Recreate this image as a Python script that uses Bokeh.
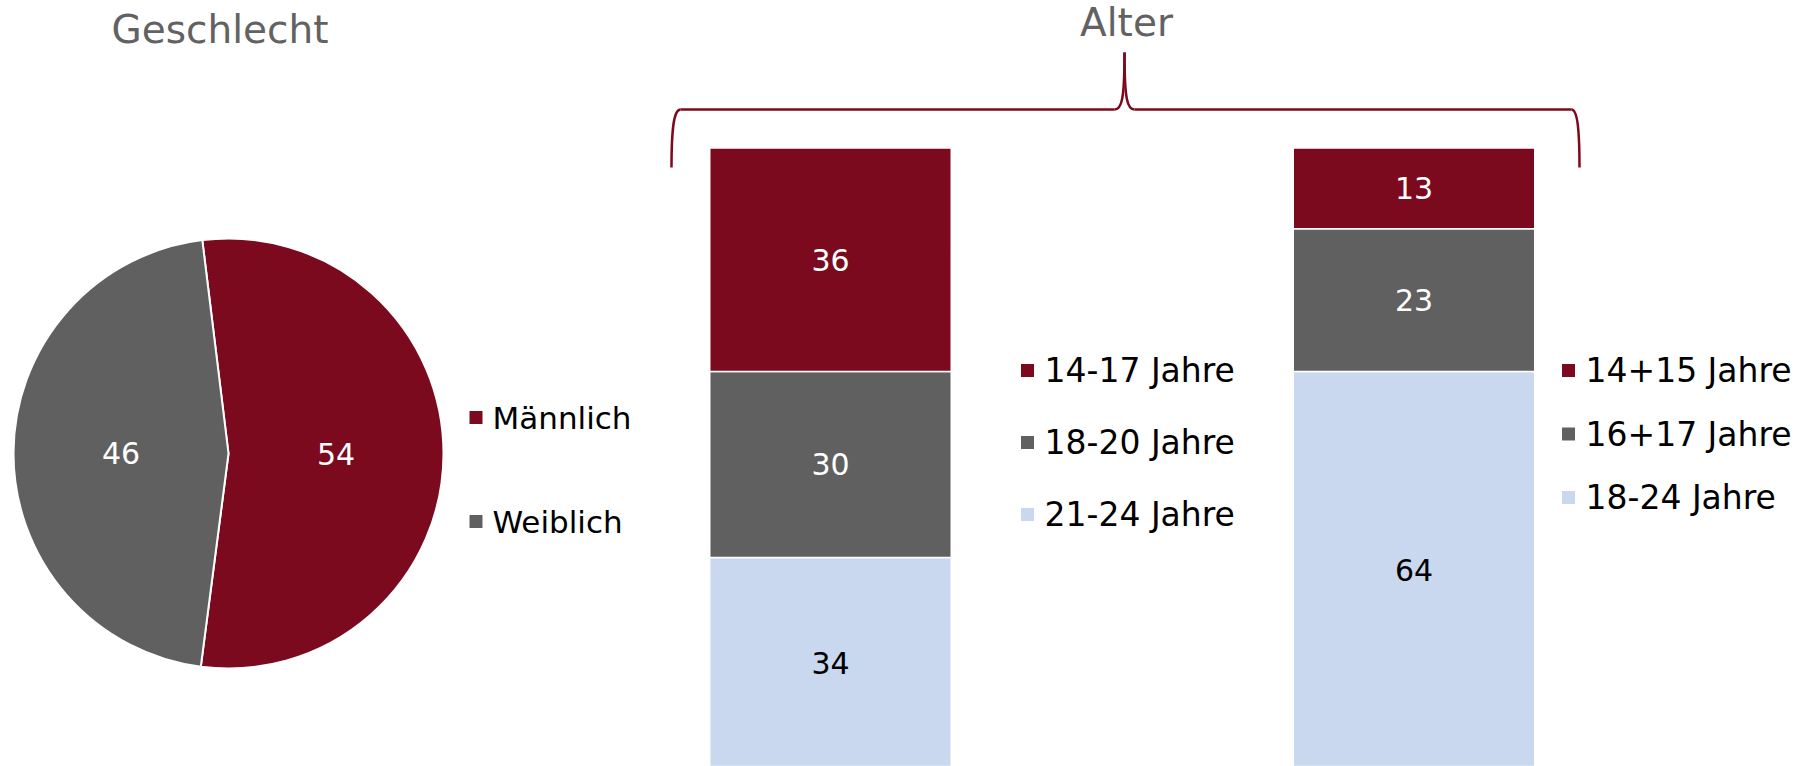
import numpy as np
from bokeh.plotting import figure
from bokeh.models import Range1d, Label, ColumnDataSource
from bokeh.layouts import row
from bokeh.embed import file_html
from bokeh.resources import INLINE
from bokeh.core.properties import value

# ---------------- data ----------------
gender = ["Männlich", "Weiblich"]
gender_share = [54, 46]
gender_colors = ["#7B0A1E", "#606060"]

bar_names = ["Alter A", "Alter B"]
age_groups_a = ["14-17 Jahre", "18-20 Jahre", "21-24 Jahre"]
age_share_a = [36, 30, 34]
age_groups_b = ["14+15 Jahre", "16+17 Jahre", "18-24  Jahre"]
age_share_b = [13, 23, 64]
age_colors = ["#7B0A1E", "#606060", "#C9D8EE"]
age_label_colors = ["white", "white", "black"]

title_left = "Geschlecht"
title_right = "Alter"

# ---------------- layout constants ----------------
FONT = "DejaVu Sans"
H = 766
PIE_W = 668
BAR_W = 1139
RED = "#7B0A1E"
TITLE_COLOR = "#626262"

# ---------------- pie ----------------
R = 215
CX, CY = 228, 453   # pie centre in page px
pie = figure(width=PIE_W, height=H, x_range=Range1d(-CX, PIE_W - CX),
             y_range=Range1d(-(H - CY), CY), output_backend="svg",
             toolbar_location=None, min_border=0, x_axis_location=None,
             y_axis_location=None, outline_line_color=None)
pie.grid.visible = False

shares = np.array(gender_share, dtype=float) / sum(gender_share)
start0 = np.deg2rad(97.0)
cum = np.cumsum(shares) * 2 * np.pi
starts = start0 - np.concatenate([[0.0], cum[:-1]])
ends = start0 - cum
mids = (starts + ends) / 2
pie_src = ColumnDataSource(dict(
    gender=gender, share=[str(v) for v in gender_share], start=starts, end=ends,
    color=gender_colors,
    lx=0.5 * R * np.cos(mids), ly=0.5 * R * np.sin(mids)))
pie.wedge(x=0, y=0, radius=R, start_angle="start", end_angle="end",
          direction="clock", fill_color="color", line_color="white",
          line_width=2, source=pie_src)
pie.text(x="lx", y="ly", text="share", source=pie_src, text_color="white",
         text_font=value(FONT), text_font_size="30px", text_align="center",
         text_baseline="middle")

# pie legend (manual)
leg_x = 475.5 - CX
leg_y0 = CY - 417
leg_step = -104
pie_leg = ColumnDataSource(dict(
    x=[leg_x] * len(gender), tx=[leg_x + 16.5] * len(gender),
    y=[leg_y0 + i * leg_step for i in range(len(gender))],
    label=gender, color=gender_colors))
pie.scatter(x="x", y="y", marker="square", size=13, fill_color="color",
            line_color=None, source=pie_leg)
pie.text(x="tx", y="y", text="label", source=pie_leg, text_color="black",
         text_font=value(FONT), text_font_size="31px", text_baseline="middle",
         text_align="left")

pie.add_layout(Label(x=219.5, y=H - 29, x_units="screen", y_units="screen",
                     text=title_left, text_font=FONT, text_font_size="39px",
                     text_color=TITLE_COLOR, text_align="center",
                     text_baseline="alphabetic"))

# ---------------- bars ----------------
PX_X0 = float(PIE_W)   # page x of left edge of bar figure
BAR0_PX = 830.0        # page x of centre of first bar
STEP_PX = 583.5        # px between bar centres
BASE_PX = 768.0        # page y of value 0
PX_PER_UNIT = 6.205


def dx(px):
    return (px - BAR0_PX) / STEP_PX


def dy(py):
    return (BASE_PX - py) / PX_PER_UNIT


bars = figure(width=BAR_W, height=H,
              x_range=Range1d(dx(PX_X0), dx(PX_X0 + BAR_W)),
              y_range=Range1d(dy(H), dy(0)), output_backend="svg",
              toolbar_location=None, min_border=0, x_axis_location=None,
              y_axis_location=None, outline_line_color=None)
bars.grid.visible = False

BAR_WIDTH = 241.5 / STEP_PX
for bi, (groups, vals) in enumerate([(age_groups_a, age_share_a),
                                     (age_groups_b, age_share_b)]):
    # stack from bottom: last group at bottom
    order = list(range(len(vals)))[::-1]
    bottoms, tops, cols, tcols, labs = [], [], [], [], []
    acc = 0.0
    for k in order:
        bottoms.append(acc)
        acc += vals[k]
        tops.append(acc)
        cols.append(age_colors[k])
        tcols.append(age_label_colors[k])
        labs.append(str(vals[k]))
    src = ColumnDataSource(dict(x=[bi] * len(vals), bottom=bottoms, top=tops,
                                color=cols, tcolor=tcols, lab=labs,
                                mid=[(b + t) / 2 for b, t in zip(bottoms, tops)]))
    bars.vbar(x="x", width=BAR_WIDTH, bottom="bottom", top="top",
              fill_color="color", line_color="white", line_width=1.5, source=src)
    bars.text(x="x", y="mid", text="lab", text_color="tcolor", source=src,
              text_font=value(FONT), text_font_size="30px", text_align="center",
              text_baseline="middle")

# bar legends (manual)
for groups, mx, y0, step in [(age_groups_a, 1027, 370, 72),
                             (age_groups_b, 1568, 370, 63.5)]:
    ys = [dy(y0 + i * step) for i in range(len(groups))]
    src = ColumnDataSource(dict(x=[dx(mx)] * len(groups),
                                tx=[dx(mx + 17)] * len(groups),
                                y=ys, label=groups, color=age_colors))
    bars.scatter(x="x", y="y", marker="square", size=13, fill_color="color",
                 line_color=None, source=src)
    bars.text(x="tx", y="y", text="label", source=src, text_color="black",
              text_font=value(FONT), text_font_size="33px",
              text_baseline="middle", text_align="left")

# brace
def seg(x0, y0, x1, y1):
    return dx(x0), dy(y0), dx(x1), dy(y1)

hs = [seg(680, 109, 1114, 109), seg(1134, 109, 1571, 109)]
bars.segment(x0=[h[0] for h in hs], y0=[h[1] for h in hs],
             x1=[h[2] for h in hs], y1=[h[3] for h in hs],
             line_color=RED, line_width=2.5)
bz = [  # (x0,y0,x1,y1,cx0,cy0,cx1,cy1) in page px
    (671, 167, 680, 109, 671, 130, 673, 109),
    (1114, 109, 1124, 52, 1121, 109, 1124, 100),
    (1134, 109, 1124, 52, 1127, 109, 1124, 100),
    (1571, 109, 1579, 167, 1577, 109, 1579, 130),
]
bars.bezier(x0=[dx(b[0]) for b in bz], y0=[dy(b[1]) for b in bz],
            x1=[dx(b[2]) for b in bz], y1=[dy(b[3]) for b in bz],
            cx0=[dx(b[4]) for b in bz], cy0=[dy(b[5]) for b in bz],
            cx1=[dx(b[6]) for b in bz], cy1=[dy(b[7]) for b in bz],
            line_color=RED, line_width=2.5)

bars.add_layout(Label(x=1126 - PX_X0, y=H - 22, x_units="screen",
                      y_units="screen", text=title_right, text_font=FONT,
                      text_font_size="39px", text_color=TITLE_COLOR,
                      text_align="center", text_baseline="alphabetic"))

layout = row(pie, bars)
open("out.html", "w").write(file_html(layout, INLINE))
